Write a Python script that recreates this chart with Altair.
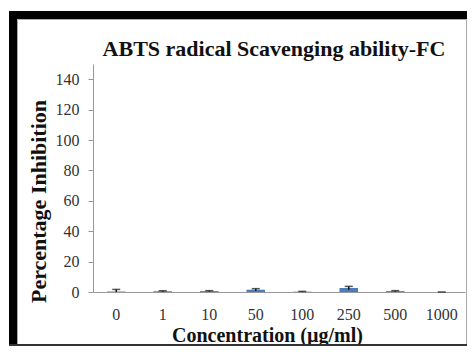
import altair as alt
import pandas as pd

categories = ["0", "1", "10", "50", "100", "250", "500", "1000"]
values = [0.3, 0.5, 0.6, 1.5, 0.2, 2.6, 0.6, 0.0]
errors = [1.4, 0.3, 0.3, 0.7, 0.2, 1.1, 0.3, 0.0]
y_ticks = [0, 20, 40, 60, 80, 100, 120, 140]

df = pd.DataFrame({"conc": categories, "value": values, "err": errors})
df["lo"] = (df["value"] - df["err"]).clip(lower=0)
df["hi"] = df["value"] + df["err"]

FONT = "Liberation Serif"

xscale = alt.Scale(paddingInner=0.6, paddingOuter=0.3)
xaxis = alt.Axis(
    title="Concentration (µg/ml)", labelAngle=0, ticks=False,
    labelPadding=14, labelFontSize=16, labelFont=FONT, labelColor="#333333",
    domainColor="#999999", titleFont=FONT, titleFontSize=20, titleFontWeight="bold",
    titleColor="#111111", titleX=174, titleY=49, titleBaseline="alphabetic",
    titleAlign="center",
)
yscale = alt.Scale(domain=[0, 150], nice=False)
yaxis = alt.Axis(
    title="Percentage Inhibition", values=y_ticks, grid=False, tickSize=5,
    tickColor="#999999", domainColor="#999999", labelPadding=9, labelOverlap=False,
    labelFontSize=16, labelFont=FONT, labelColor="#333333",
    titleFont=FONT, titleFontSize=22, titleFontWeight="bold", titleColor="#111111",
    titleX=-55, titleY=137, titleAngle=270, titleAlign="center", titleBaseline="middle",
)

bars = alt.Chart(df).mark_bar(color="#4a7ebb").encode(
    x=alt.X("conc:N", sort=categories, scale=xscale, axis=xaxis),
    y=alt.Y("value:Q", scale=yscale, axis=yaxis),
)
rules = alt.Chart(df).mark_rule(color="#111111", strokeWidth=1.5).encode(
    x=alt.X("conc:N", sort=categories, scale=xscale, axis=xaxis),
    y=alt.Y("lo:Q", scale=yscale, axis=yaxis), y2="hi:Q"
)
caps = alt.Chart(df).mark_tick(color="#111111", thickness=1.5, size=8).encode(
    x=alt.X("conc:N", sort=categories, scale=xscale, axis=xaxis),
    y=alt.Y("hi:Q", scale=yscale, axis=yaxis)
)

frame_df = pd.DataFrame({"k": [0]})
left_bar = alt.Chart(frame_df).mark_rect(color="black").encode(
    x=alt.value(-84), x2=alt.value(-76), y=alt.value(-53), y2=alt.value(282)
)
top_bar = alt.Chart(frame_df).mark_rect(color="black").encode(
    x=alt.value(-84), x2=alt.value(374), y=alt.value(-53), y2=alt.value(-45)
)
gray_frame = alt.Chart(frame_df).mark_rect(fill="transparent", stroke="#aaaaaa", strokeWidth=1).encode(
    x=alt.value(-75.5), x2=alt.value(373.5), y=alt.value(-44.5), y2=alt.value(280.5)
)
bottom_line = alt.Chart(frame_df).mark_rect(color="#333333").encode(
    x=alt.value(-84), x2=alt.value(374), y=alt.value(280), y2=alt.value(282)
)

chart = alt.layer(gray_frame, left_bar, top_bar, bottom_line, bars, rules, caps).properties(
    width=372, height=228,
    background="white",
    title=alt.TitleParams(
        "ABTS radical Scavenging ability-FC", font=FONT, fontSize=22, fontWeight="bold",
        color="#111111", anchor="middle", dx=-5, offset=0, baseline="alphabetic", dy=67,
    ),
    autosize=alt.AutoSizeParams(type="none"),
    padding={"left": 85, "top": 56, "right": 2, "bottom": 54},
).configure_view(stroke=None)

chart.save("out.html", embed_options={"renderer": "svg", "actions": False})
